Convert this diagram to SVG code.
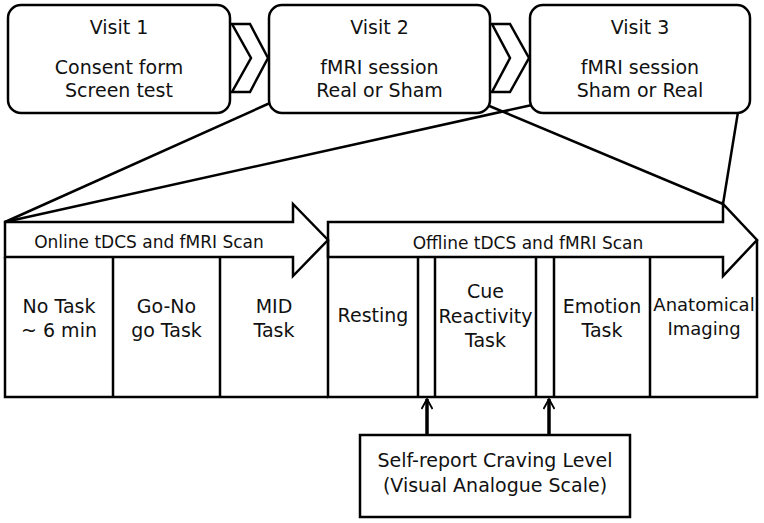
<svg xmlns="http://www.w3.org/2000/svg" width="764" height="523" viewBox="0 0 764 523">
<style>
.ln{fill:none;stroke:#000;stroke-width:2.5;stroke-linejoin:miter}
.bx{fill:#fff;stroke:#000;stroke-width:2.5}
.t{font-family:"DejaVu Sans","Open Sans",sans-serif;font-size:19px;fill:#111;text-anchor:middle}
.s{font-size:17px}
.a{font-size:18px}
.ar{fill:none;stroke:#000;stroke-width:3.5}
</style>
<defs>
<marker id="ah" viewBox="0 0 12 12" refX="11" refY="6" markerWidth="12" markerHeight="12" markerUnits="userSpaceOnUse" orient="auto">
<path d="M1,0.5 L11,6 L1,11.5" fill="none" stroke="#000" stroke-width="1.8"/>
</marker>
</defs>
<rect width="764" height="523" fill="#fff"/>
<g id="connectors">
<polygon class="ln" points="232,24 250,24 268,58 250,92 232,92 251,58"/>
<polygon class="ln" points="492,24 510,24 529,58 510,92 492,92 510,58"/>
<line class="ln" x1="270" y1="103" x2="5" y2="222"/>
<line class="ln" x1="532" y1="105" x2="5" y2="222"/>
<line class="ln" x1="487" y1="105" x2="723" y2="204"/>
<line class="ln" x1="738" y1="112" x2="723" y2="204"/>
<line class="ar" x1="427" y1="435" x2="427" y2="399" marker-end="url(#ah)"/>
<line class="ar" x1="549" y1="435" x2="549" y2="399" marker-end="url(#ah)"/>
</g>
<g id="visit1">
<rect class="bx" x="8" y="5" width="222" height="108" rx="13"/>
<text class="t" x="119" y="34">Visit 1</text>
<text class="t" x="119" y="74">Consent form</text>
<text class="t" x="119" y="97">Screen test</text>
</g>
<g id="visit2">
<rect class="bx" x="269" y="5" width="221" height="108" rx="13"/>
<text class="t" x="379.5" y="34">Visit 2</text>
<text class="t" x="379.5" y="74">fMRI session</text>
<text class="t" x="379.5" y="97">Real or Sham</text>
</g>
<g id="visit3">
<rect class="bx" x="530" y="5" width="220" height="108" rx="13"/>
<text class="t" x="640" y="34">Visit 3</text>
<text class="t" x="640" y="74">fMRI session</text>
<text class="t" x="640" y="97">Sham or Real</text>
</g>
<g id="online">
<polygon class="ln" points="5,222 293,222 293,204 328,240 293,276 293,257 5,257"/>
<text class="t s" x="149" y="248">Online tDCS and fMRI Scan</text>
<polyline class="ln" points="5,257 5,397 328,397"/>
<line class="ln" x1="113" y1="257" x2="113" y2="397"/>
<line class="ln" x1="220" y1="257" x2="220" y2="397"/>
</g>
<g id="offline">
<polygon class="ln" points="328,222 723,222 723,204 757,240 723,276 723,257 328,257"/>
<text class="t s" x="528" y="249">Offline tDCS and fMRI Scan</text>
<polyline class="ln" points="328,240 328,397 757,397 757,240"/>
<line class="ln" x1="418" y1="257" x2="418" y2="397"/>
<line class="ln" x1="435" y1="257" x2="435" y2="397"/>
<line class="ln" x1="536" y1="257" x2="536" y2="397"/>
<line class="ln" x1="554" y1="257" x2="554" y2="397"/>
<line class="ln" x1="650" y1="257" x2="650" y2="397"/>
</g>
<g id="notask"><text class="t" x="59" y="313">No Task</text><text class="t" x="59" y="337">~ 6 min</text></g>
<g id="gonogo"><text class="t" x="166.5" y="313">Go-No</text><text class="t" x="166.5" y="337">go Task</text></g>
<g id="mid"><text class="t" x="274" y="313">MID</text><text class="t" x="274" y="337">Task</text></g>
<g id="resting"><text class="t" x="373" y="322">Resting</text></g>
<g id="cue"><text class="t" x="485.5" y="298">Cue</text><text class="t" x="485.5" y="323">Reactivity</text><text class="t" x="485.5" y="347">Task</text></g>
<g id="emotion"><text class="t" x="602" y="313">Emotion</text><text class="t" x="602" y="337">Task</text></g>
<g id="anatomical"><text class="t a" x="704" y="311">Anatomical</text><text class="t a" x="704" y="335">Imaging</text></g>
<g id="selfreport">
<rect class="bx" x="360" y="435" width="270" height="82"/>
<text class="t" x="495" y="467">Self-report Craving Level</text>
<text class="t" x="495" y="492">(Visual Analogue Scale)</text>
</g>
</svg>
